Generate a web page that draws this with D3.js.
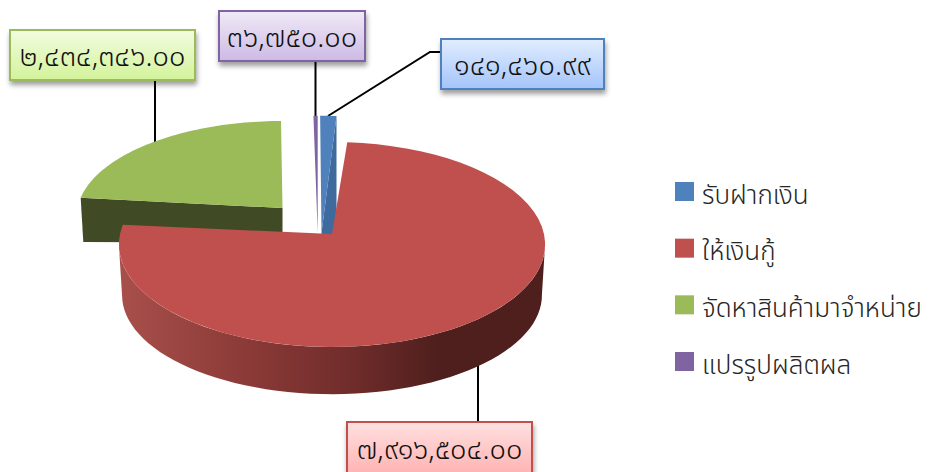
<!DOCTYPE html>
<html><head><meta charset="utf-8">
<style>html,body{margin:0;padding:0;background:#fff;overflow:hidden}svg{display:block}
text{font-family:"Noto Sans Thai","Noto Sans","Open Sans",sans-serif;font-weight:300}</style>
<script src="https://cdn.jsdelivr.net/npm/d3@7/dist/d3.min.js"></script></head><body>
<script>
const categories = ["รับฝากเงิน","ให้เงินกู้","จัดหาสินค้ามาจำหน่าย","แปรรูปผลิตผล"];
const values = [141460.99,7916504,2434346,36750];
const valueLabels = ["๑๔๑,๔๖๐.๙๙","๗,๙๑๖,๕๐๔.๐๐","๒,๔๓๔,๓๔๖.๐๐","๓๖,๗๕๐.๐๐"];
const colors = ["#4F81BD","#C0504D","#9BBB59","#8064A2"];
const faceColors = ["#3E6A9E",null,"#404A25",null];

const W=931,H=472;
const svg=d3.select("body").append("svg").attr("width",W).attr("height",H);
const defs=svg.append("defs");
const f=defs.append("filter").attr("id","sh").attr("x","-10%").attr("y","-20%").attr("width","120%").attr("height","150%");
f.append("feDropShadow").attr("dx",1).attr("dy",4).attr("stdDeviation",2.5).attr("flood-color","#000").attr("flood-opacity",.38);
const boxGrad=[["#E2EDFF","#A3C4FA"],["#FFE0E0","#FFB3B3"],["#F2FCE0","#D3F39B"],["#F0EAF7","#CDBAE4"]];
boxGrad.forEach((g,i)=>{const lg=defs.append("linearGradient").attr("id","bx"+i).attr("x1",0).attr("x2",0).attr("y1",0).attr("y2",1);
 lg.append("stop").attr("offset",0).attr("stop-color",g[0]);lg.append("stop").attr("offset",1).attr("stop-color",g[1]);});
const wg=defs.append("linearGradient").attr("id","wall").attr("gradientUnits","userSpaceOnUse").attr("x1",120).attr("x2",545).attr("y1",0).attr("y2",0);
[[0,"#A84F4B"],[.3,"#8B3A37"],[.55,"#6F2C2B"],[.75,"#4E1F1D"],[1,"#4E1F1D"]].forEach(s=>wg.append("stop").attr("offset",s[0]).attr("stop-color",s[1]));

// projection of each exploded slice
const geom=[
 {tx:321.5,ty:233,R:212,a:128,p:.092,d:0,k:-.376,xs:1,rot:-.007},
 {tx:332,ty:234,R:212,a:101.4,p:.1026,d:51,k:.966,xs:.985,rot:-.005},
 {tx:282.5,ty:208,R:205,a:94.6,p:.087,d:35,k:.1,xs:.987,rot:.014},
 {tx:317.7,ty:233,R:212,a:128,p:.092,d:0,k:-.376,xs:1,rot:0}
];
const pie=d3.pie().sort(null).value(d=>d)(values);
const proj=(g,t)=>{const u=-Math.cos(t+g.rot),q=1-g.p*u;return [g.R*Math.sin(t+g.rot)/q,g.a*u/q];};
const P=(g,t)=>{const [x,y]=proj(g,t);return [g.tx+x,g.ty+y];};
const B=(g,t)=>{const [x,y]=proj(g,t);return [g.tx+x*g.xs,g.ty+g.d+y*g.k];};
const line=d3.line();
const rim=(g,a,b,fn)=>d3.range(0,61).map(i=>fn(g,a+(b-a)*i/60));

// leaders
const leaders=[[[328,116],[430,52],[441,52]],[[478,365],[478,422]],[[155,80],[155,142]],[[315.5,61],[315.5,117]]];
svg.append("g").selectAll("path").data(leaders).join("path").attr("d",d=>line(d)).attr("fill","none").attr("stroke","#000").attr("stroke-width",2);

// slices, back to front
[3,0,2,1].forEach(i=>{
 const s=pie[i],g=geom[i],gr=svg.append("g");
 const tipT=[g.tx,g.ty],tipB=[g.tx,g.ty+g.d];
 if(i===1){
  // outer wall runs between the two silhouette tangent points of the rim
  const a0=Math.PI/2+Math.asin(g.p),a1=1.5*Math.PI-Math.asin(g.p);
  gr.append("path").attr("d",line([...rim(g,a0,a1,P),...rim(g,a0,a1,B).reverse()])+"Z").attr("fill","url(#wall)");
 } else if(faceColors[i]){
  const ang=i===0?s.endAngle:s.startAngle;
  gr.append("path").attr("d",line([tipT,P(g,ang),B(g,ang),tipB])+"Z").attr("fill",faceColors[i]);
 }
 gr.append("path").attr("d",line([tipT,...rim(g,s.startAngle,s.endAngle,P)])+"Z").attr("fill",colors[i]);
});

// value boxes
const boxes=[[441,39,163,50],[347,422,185,52],[10,30,185,50],[219,11,146,50]];
const bg=svg.append("g").selectAll("g").data(valueLabels).join("g");
bg.append("rect").attr("x",(d,i)=>boxes[i][0]).attr("y",(d,i)=>boxes[i][1]).attr("width",(d,i)=>boxes[i][2]).attr("height",(d,i)=>boxes[i][3])
 .attr("fill",(d,i)=>`url(#bx${i})`).attr("stroke",(d,i)=>colors[i]).attr("stroke-width",2).attr("filter","url(#sh)");
bg.append("text").attr("x",(d,i)=>boxes[i][0]+boxes[i][2]/2).attr("y",(d,i)=>boxes[i][1]+boxes[i][3]/2+11)
 .attr("text-anchor","middle").attr("font-size",29).attr("fill","#111").text(d=>d);

// legend
const ly=d3.scalePoint().domain(categories).range([191.5,361.5]);
const lg=svg.append("g").selectAll("g").data(categories).join("g").attr("transform",d=>`translate(675,${ly(d)})`);
lg.append("rect").attr("x",0).attr("y",-9.5).attr("width",19).attr("height",19).attr("fill",(d,i)=>colors[i]);
lg.append("text").attr("x",27).attr("y",12).attr("font-size",26).attr("fill","#262626").text(d=>d);
</script></body></html>
